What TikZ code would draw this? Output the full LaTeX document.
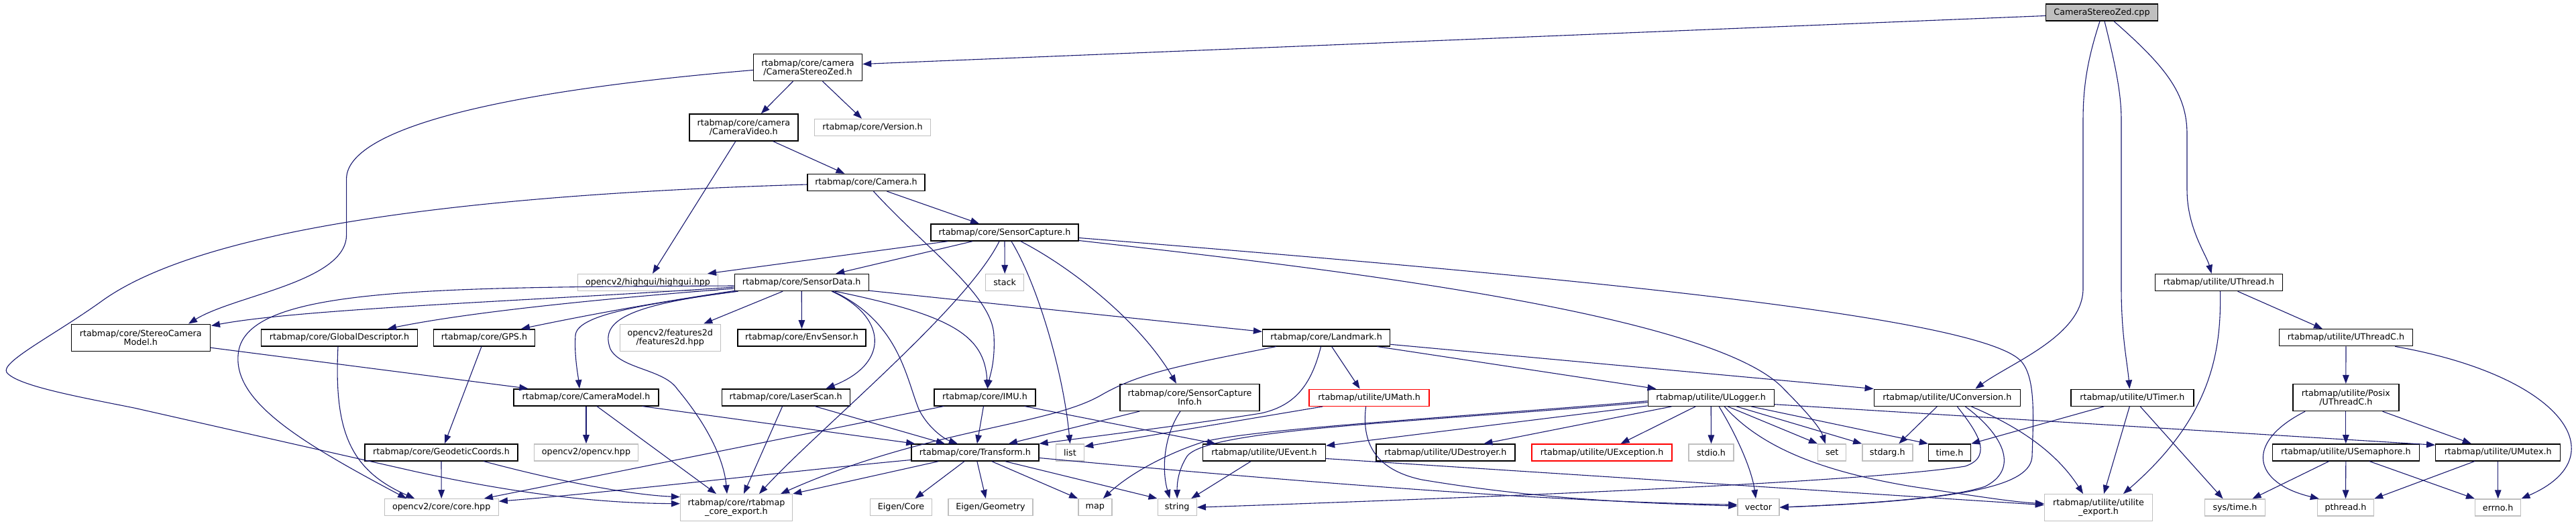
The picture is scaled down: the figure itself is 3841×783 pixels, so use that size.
\documentclass[tikz,border=0pt]{standalone}
\usepackage{fontspec}
\setmainfont{DejaVu Sans}
\usetikzlibrary{arrows.meta,calc}
\definecolor{edgeblue}{HTML}{191970}
\definecolor{lgray}{HTML}{BFBFBF}
\definecolor{rootgray}{HTML}{BFBFBF}
\newcommand\gfont{\fontsize{6.36pt}{6.67pt}\selectfont}
\tikzset{
  nb/.style={draw=black, fill=white, line width=0.7pt, inner sep=0pt, minimum height=12.5pt, align=center, font=\gfont},
  ng/.style={nb, draw=lgray},
  nr/.style={nb, draw=red},
  nroot/.style={nb, fill=rootgray},
  two/.style={minimum height=20pt},
  bw/.style={minimum width=#1*0.5pt},
  lnk/.style={draw=edgeblue, line width=0.55pt, -{Triangle[length=6.5pt,width=4.8pt]}},
}
\begin{document}
\begin{tikzpicture}[x=0.5pt,y=-0.5pt]
\useasboundingbox (0,0) rectangle (3841,783);
\fill[white] (0,0) rectangle (3841,783);
% nodes
\node[nroot,bw=167] (cpp) at (3134,18.5) {CameraStereoZed.cpp};
\node[nb,two,bw=162] (cszh) at (1204.5,100.5) {rtabmap/core/camera\\/CameraStereoZed.h};
\node[nb,two,bw=162] (cvid) at (1108.8,190) {rtabmap/core/camera\\/CameraVideo.h};
\node[ng,bw=173] (ver) at (1301,190) {rtabmap/core/Version.h};
\node[nb,bw=175] (cam) at (1291.5,272) {rtabmap/core/Camera.h};
\node[nb,bw=220] (sc) at (1498,346.5) {rtabmap/core/SensorCapture.h};
\node[ng,bw=209] (hg) at (966,421) {opencv2/highgui/highgui.hpp};
\node[nb,bw=200] (sd) at (1195.2,421) {rtabmap/core/SensorData.h};
\node[ng,bw=57] (stk) at (1498.2,421) {stack};
\node[nb,bw=190] (uth) at (3308.5,421) {rtabmap/utilite/UThread.h};
\node[nb,two,bw=207] (scm) at (209.8,503.2) {rtabmap/core/StereoCamera\\Model.h};
\node[nb,bw=233] (gd) at (506,503.3) {rtabmap/core/GlobalDescriptor.h};
\node[nb,bw=151] (gps) at (722,503.3) {rtabmap/core/GPS.h};
\node[ng,two,bw=150] (f2d) at (999.3,503.2) {opencv2/features2d\\/features2d.hpp};
\node[nb,bw=191] (env) at (1195.5,503.3) {rtabmap/core/EnvSensor.h};
\node[nb,bw=190] (lm) at (1977.6,503.3) {rtabmap/core/Landmark.h};
\node[nb,bw=199] (uthc) at (3498,503.2) {rtabmap/utilite/UThreadC.h};
\node[nb,bw=216] (cm) at (874,592.3) {rtabmap/core/CameraModel.h};
\node[nb,bw=191] (ls) at (1171.7,592.3) {rtabmap/core/LaserScan.h};
\node[nb,bw=151] (imu) at (1468.5,592.3) {rtabmap/core/IMU.h};
\node[nb,two,bw=208] (sci) at (1774,592.3) {rtabmap/core/SensorCapture\\Info.h};
\node[nr,bw=179] (umath) at (2041.6,592.7) {rtabmap/utilite/UMath.h};
\node[nb,bw=188] (ulog) at (2551.2,592.7) {rtabmap/utilite/ULogger.h};
\node[nb,bw=218] (uconv) at (2903.3,592.7) {rtabmap/utilite/UConversion.h};
\node[nb,bw=183] (utim) at (3179.3,592.7) {rtabmap/utilite/UTimer.h};
\node[nb,two,bw=158] (posix) at (3497.8,592.5) {rtabmap/utilite/Posix\\/UThreadC.h};
\node[nb,bw=228] (geo) at (658,674.3) {rtabmap/core/GeodeticCoords.h};
\node[ng,bw=155] (ocv) at (874,674.3) {opencv2/opencv.hpp};
\node[nb,bw=190] (tf) at (1453.9,674.5) {rtabmap/core/Transform.h};
\node[ng,bw=42] (lst) at (1595.5,674.5) {list};
\node[nb,bw=183] (uev) at (1885,674.5) {rtabmap/utilite/UEvent.h};
\node[nb,bw=207] (udes) at (2155.4,674.5) {rtabmap/utilite/UDestroyer.h};
\node[nr,bw=209] (uexc) at (2388.6,674.5) {rtabmap/utilite/UException.h};
\node[ng,bw=67] (stdio) at (2551.5,674.5) {stdio.h};
\node[ng,bw=42] (set) at (2731.7,674.5) {set};
\node[ng,bw=75] (starg) at (2814.3,674.5) {stdarg.h};
\node[nb,bw=63] (timeh) at (2907,674.5) {time.h};
\node[nb,bw=219] (usem) at (3497.8,674.3) {rtabmap/utilite/USemaphore.h};
\node[nb,bw=186] (umtx) at (3724.7,674.3) {rtabmap/utilite/UMutex.h};
\node[ng,two,bw=167] (cexp) at (1098,756.7) {rtabmap/core/rtabmap\\\_core\_export.h};
\node[ng,bw=170] (core) at (658.2,756.2) {opencv2/core/core.hpp};
\node[ng,bw=92] (eic) at (1343.5,756.2) {Eigen/Core};
\node[ng,bw=126] (eig) at (1476.9,756.2) {Eigen/Geometry};
\node[ng,bw=50] (map) at (1632.8,756.2) {map};
\node[ng,bw=58] (str) at (1755.2,756.2) {string};
\node[ng,bw=62] (vec) at (2622,756.2) {vector};
\node[ng,two,bw=161] (uexp) at (3129,756.7) {rtabmap/utilite/utilite\\\_export.h};
\node[ng,bw=90] (systime) at (3332.5,756.5) {sys/time.h};
\node[ng,bw=84] (pth) at (3497.5,756.5) {pthread.h};
\node[ng,bw=68] (errno) at (3724.7,756.5) {errno.h};
% root
\draw[lnk] ($(cpp.west)+(0,5)$) -- ($(cszh.east)+(0,-5)$);
\draw[lnk] ($(cpp.south)+(-3,0)$) .. controls (3112,90) and (3106,130) .. (3106,180) -- (3106,430) .. controls (3106,500) and (3000,540) .. ($(uconv.north)+(42,0)$);
\draw[lnk] ($(cpp.south)+(4,0)$) .. controls (3155,100) and (3163,140) .. (3163,180) -- (3163,430) .. controls (3163,500) and (3172,540) .. ($(utim.north)+(-4,0)$);
\draw[lnk] ($(cpp.south)+(18,0)$) .. controls (3230,100) and (3261,140) .. (3261,200) -- (3261,283) .. controls (3261,340) and (3290,380) .. ($(uth.north)+(-11,0)$);
% CameraStereoZed.h
\draw[lnk] ($(cszh.south)+(-22,0)$) -- ($(cvid.north)+(26,0)$);
\draw[lnk] ($(cszh.south)+(22,0)$) -- ($(ver.north)+(-16,0)$);
\draw[lnk] ($(cszh.west)+(0,4)$) .. controls (700,140) and (516.6,200) .. (516.6,266.7) -- (516.6,350) .. controls (516.6,420) and (350,440) .. ($(scm.north east)+(-33,0)$);
% CameraVideo.h
\draw[lnk] ($(cvid.south)+(44,0)$) -- ($(cam.north)+(-32,0)$);
\draw[lnk] ($(cvid.south)+(-12,0)$) -- ($(hg.north)+(7,0)$);
% Camera.h
\draw[lnk] ($(cam.south)+(31,0)$) -- ($(sc.north)+(-38,0)$);
\draw[lnk] ($(cam.south)+(11,0)$) .. controls (1380,370) and (1480,440) .. (1482,500) .. controls (1484,540) and (1476,560) .. ($(imu.north)+(4,0)$);
\draw[lnk] ($(cam.west)+(0,3)$) .. controls (700,290) and (300,340) .. (150,450) .. controls (80,500) and (0,540) .. (10,555) .. controls (25,575) and (120,592) .. (200,608) -- (620,703) .. controls (780,738) and (900,750) .. ($(cexp.west)+(0,-6)$);
% SensorCapture.h
\draw[lnk] ($(sc.south)+(-85,0)$) -- ($(hg.north)+(89,0)$);
\draw[lnk] ($(sc.south)+(-48,0)$) -- ($(sd.north)+(51,0)$);
\draw[lnk] ($(sc.south)+(-8,0)$) .. controls (1440,460) and (1220,640) .. ($(cexp.north)+(34,0)$);
\draw[lnk] (sc.south) -- (stk.north);
\draw[lnk] ($(sc.south)+(10,0)$) .. controls (1545,420) and (1585,550) .. (lst.north);
\draw[lnk] ($(sc.south)+(24,0)$) .. controls (1600,400) and (1700,480) .. ($(sci.north)+(-20,0)$);
\draw[lnk] ($(sc.east)+(0,12)$) .. controls (1900,392) and (2550,460) .. (2660,580) .. controls (2700,620) and (2715,640) .. ($(set.north)+(-10,0)$);
\draw[lnk] ($(sc.east)+(0,8)$) .. controls (2300,410) and (2960,470) .. (3015,540) .. controls (3035,565) and (3032,620) .. (3030,680) .. controls (3028,720) and (2950,745) .. (vec.east);
% SensorData.h
\draw[lnk] ($(sd.west)+(0,7)$) .. controls (800,448) and (450,460) .. ($(scm.north east)+(1,3)$);
\draw[lnk] ($(sd.west)+(0,9)$) .. controls (900,445) and (700,465) .. ($(gd.north)+(72,0)$);
\draw[lnk] ($(sd.south west)+(2,-1)$) .. controls (950,455) and (850,475) .. ($(gps.north)+(55,0)$);
\draw[lnk] ($(sd.south west)+(4,0)$) .. controls (950,455) and (860,470) .. (858,500) .. controls (856,530) and (862,560) .. ($(cm.north)+(-10,0)$);
\draw[lnk] ($(sd.west)+(0,5)$) .. controls (620,428) and (360,430) .. (355,530) .. controls (350,600) and (450,660) .. ($(core.north)+(-52,0)$);
\draw[lnk] ($(sd.south)+(-28,0)$) -- ($(f2d.north)+(50,0)$);
\draw[lnk] (sd.south) -- (env.north);
\draw[lnk] ($(sd.south west)+(6,0)$) .. controls (930,455) and (895,480) .. (910,520) .. controls (925,550) and (990,550) .. (1010,580) .. controls (1060,640) and (1080,690) .. ($(cexp.north)+(-14,0)$);
\draw[lnk] ($(sd.south)+(45,0)$) .. controls (1320,470) and (1330,540) .. ($(ls.north)+(60,0)$);
\draw[lnk] ($(sd.south)+(47,0)$) .. controls (1340,480) and (1350,560) .. (1370,610) .. controls (1385,640) and (1410,655) .. ($(tf.north)+(-26,0)$);
\draw[lnk] ($(sd.south)+(50,0)$) .. controls (1420,470) and (1468,500) .. ($(imu.north)+(4,0)$);
\draw[lnk] ($(sd.south east)+(0,-1)$) -- ($(lm.west)+(0,-9)$);
% second level
\draw[lnk] ($(gd.south)+(-2,0)$) .. controls (498,640) and (520,700) .. ($(core.north)+(-40,0)$);
\draw[lnk] ($(gps.south)+(-4,0)$) -- ($(geo.north)+(5,0)$);
\draw[lnk] ($(scm.east)+(0,15)$) -- ($(cm.north west)+(22,0)$);
\draw[lnk] (cm.south) -- (ocv.north);
\draw[lnk] ($(cm.south east)+(-25,0)$) -- ($(tf.north west)+(6,0)$);
\draw[lnk] ($(cm.south)+(16,0)$) -- ($(cexp.north)+(-30,0)$);
\draw[lnk] (geo.south) -- (core.north);
\draw[lnk] ($(geo.south)+(63,0)$) .. controls (850,722) and (950,738) .. ($(cexp.west)+(0,-16)$);
\draw[lnk] ($(ls.south)+(43,0)$) -- ($(tf.north)+(-45,0)$);
\draw[lnk] ($(ls.south)+(-5,0)$) -- ($(cexp.north)+(11,0)$);
\draw[lnk] ($(imu.south)+(-2,0)$) -- ($(tf.north)+(3,0)$);
\draw[lnk] ($(imu.south west)+(15,0)$) -- ($(core.north east)+(-22,0)$);
\draw[lnk] ($(imu.south east)+(-17,0)$) -- ($(uev.north west)+(20,0)$);
\draw[lnk] ($(sci.south west)+(30,0)$) -- ($(tf.north)+(50,0)$);
\draw[lnk] ($(sci.south)+(-14,0)$) .. controls (1735,650) and (1732,700) .. ($(str.north)+(-11,0)$);
% Landmark.h
\draw[lnk] ($(lm.south west)+(21,0)$) .. controls (1760,545) and (1700,555) .. (1640,590) .. controls (1560,635) and (1380,640) .. ($(cexp.north)+(66,0)$);
\draw[lnk] ($(lm.south)+(-8,0)$) .. controls (1955,575) and (1930,605) .. (1880,616) .. controls (1780,632) and (1620,652) .. (tf.north east);
\draw[lnk] ($(lm.south)+(8,0)$) -- ($(umath.north)+(-14,0)$);
\draw[lnk] ($(lm.south east)+(-20,0)$) -- ($(ulog.north west)+(13,0)$);
\draw[lnk] ($(lm.east)+(0,10)$) -- (uconv.north west);
% UMath.h
\draw[lnk] ($(umath.south west)+(21,0)$) -- ($(lst.east)+(0,-9)$);
\draw[lnk] ($(umath.south)+(-5,0)$) .. controls (2030,660) and (2050,700) .. (2120,715) .. controls (2300,745) and (2450,750) .. ($(vec.west)+(0,-2)$);
% ULogger.h
\draw[lnk] ($(ulog.west)+(0,5)$) .. controls (2200,620) and (1850,640) .. (1790,660) .. controls (1730,680) and (1680,710) .. ($(map.north)+(12,0)$);
\draw[lnk] ($(ulog.west)+(0,7)$) .. controls (2100,630) and (1800,640) .. (1770,680) .. controls (1757,700) and (1755,720) .. (str.north);
\draw[lnk] ($(ulog.south west)+(0,-1)$) -- ($(uev.north east)+(0,3)$);
\draw[lnk] ($(ulog.south west)+(36,0)$) -- ($(udes.north)+(57,0)$);
\draw[lnk] ($(ulog.south)+(-23,0)$) -- ($(uexc.north)+(28,0)$);
\draw[lnk] (ulog.south) -- (stdio.north);
\draw[lnk] ($(ulog.south)+(12,0)$) .. controls (2590,650) and (2612,700) .. ($(vec.north)+(-4,0)$);
\draw[lnk] ($(ulog.south)+(25,0)$) -- (set.north west);
\draw[lnk] ($(ulog.south)+(38,0)$) -- (starg.north west);
\draw[lnk] ($(ulog.south)+(60,0)$) -- (timeh.north west);
\draw[lnk] ($(ulog.south)+(20,0)$) .. controls (2620,660) and (2700,700) .. (2850,725) .. controls (2950,740) and (3000,748) .. ($(uexp.west)+(0,-6)$);
\draw[lnk] ($(ulog.east)+(0,10)$) -- ($(umtx.west)+(0,-11)$);
% UConversion.h
\draw[lnk] ($(uconv.south)+(-15,0)$) -- ($(starg.north)+(17,0)$);
\draw[lnk] ($(uconv.south)+(15,0)$) .. controls (2945,640) and (2975,680) .. (2930,695) .. controls (2800,715) and (2400,735) .. (str.east);
\draw[lnk] ($(uconv.south)+(27,0)$) .. controls (2990,650) and (3010,700) .. (2960,725) .. controls (2900,745) and (2750,752) .. (vec.east);
\draw[lnk] ($(uconv.south)+(36,0)$) .. controls (3020,640) and (3070,680) .. ($(uexp.north)+(-23,0)$);
% UEvent.h
\draw[lnk] ($(uev.south)+(-20,0)$) -- ($(str.north)+(21,0)$);
\draw[lnk] ($(uev.east)+(0,9)$) -- ($(uexp.west)+(0,-4)$);
% Transform.h
\draw[lnk] ($(tf.south west)+(41,0)$) -- (cexp.north east);
\draw[lnk] ($(tf.west)+(0,11)$) .. controls (1200,700) and (900,735) .. ($(core.east)+(0,-9)$);
\draw[lnk] ($(tf.south)+(-16,0)$) -- ($(eic.north)+(21,0)$);
\draw[lnk] ($(tf.south)+(3,0)$) -- ($(eig.north)+(-7,0)$);
\draw[lnk] ($(tf.south)+(25,0)$) -- (map.north west);
\draw[lnk] ($(tf.south)+(45,0)$) -- (str.north west);
\draw[lnk] ($(tf.east)+(0,8)$) .. controls (1900,715) and (2300,748) .. ($(vec.west)+(0,-4)$);
% UTimer.h
\draw[lnk] ($(utim.south west)+(50,0)$) -- (timeh.north east);
\draw[lnk] ($(utim.south)+(-4,0)$) -- ($(uexp.north)+(8,0)$);
\draw[lnk] ($(utim.south)+(12,0)$) -- ($(systime.north)+(-18,0)$);
% UThread.h
\draw[lnk] ($(uth.south)+(28,0)$) -- ($(uthc.north)+(-35,0)$);
\draw[lnk] ($(uth.south)+(2,0)$) .. controls (3312,520) and (3300,620) .. ($(uexp.north)+(37,0)$);
% UThreadC.h
\draw[lnk] (uthc.south) -- (posix.north);
\draw[lnk] ($(uthc.south east)+(-27,0)$) .. controls (3820,560) and (3905,680) .. (errno.north east);
% Posix/UThreadC.h
\draw[lnk] ($(posix.south west)+(19,0)$) .. controls (3345,660) and (3360,720) .. ($(pth.north west)+(3,0)$);
\draw[lnk] (posix.south) -- (usem.north);
\draw[lnk] ($(posix.south east)+(-25,0)$) -- ($(umtx.north)+(-40,0)$);
% USemaphore.h
\draw[lnk] ($(usem.south)+(-25,0)$) -- ($(systime.north)+(26,0)$);
\draw[lnk] (usem.south) -- (pth.north);
\draw[lnk] ($(usem.south)+(35,0)$) -- (errno.north west);
% UMutex.h
\draw[lnk] ($(umtx.south west)+(59,0)$) -- (pth.north east);
\draw[lnk] (umtx.south) -- (errno.north);
\end{tikzpicture}
\end{document}
